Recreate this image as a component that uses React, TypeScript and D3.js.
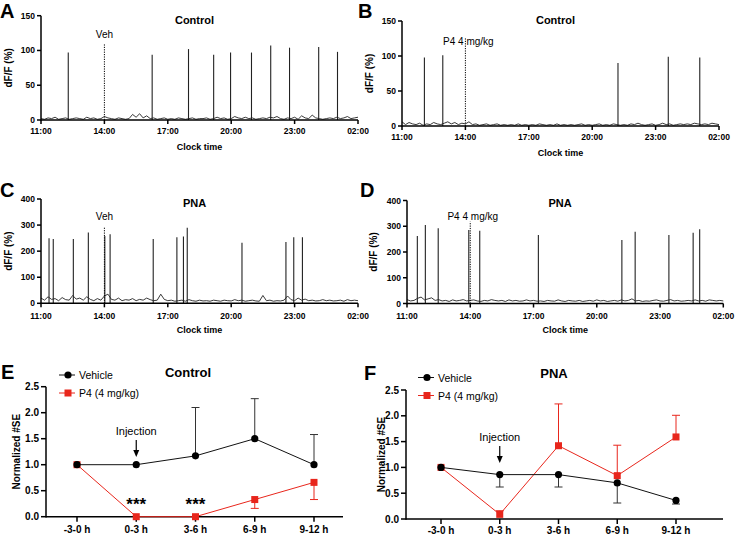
import React from "react";
import * as d3 from "d3";

const FONT = "'Liberation Sans', Arial, Helvetica, sans-serif";

// Clock ticks (hours after 11:00)
const clockTickHours = [0, 3, 6, 9, 12, 15];
const clockTickLabels = ["11:00", "14:00", "17:00", "20:00", "23:00", "02:00"];

// Panel A (Control, Veh) — spike times (h after 11:00) and peaks (dF/F %)
const aSpikeTimes = [1.29, 5.26, 6.98, 8.17, 8.97, 9.96, 10.87, 11.76, 13.14, 14.03];
const aSpikeHeights = [97, 94, 102, 94, 97, 97, 107, 104, 105, 98];
const aNoise = [2,1,3,2,4,1,2,3,1,2, 3,2,1,4,2,3,1,2,5,3, 2,1,3,2,1,2,8,4,9,3, 6,2,3,1,2,3,1,2,1,3, 2,1,2,3,1,2,2,3,1,2, 4,2,3,1,2,5,3,2,4,2, 3,1,2,3,2,4,3,5,2,1, 3,2,4,1,6,3,2,7,3,2, 1,2,3,2,4,2,3,5,2,3, 4];

// Panel B (Control, P4)
const bSpikeTimes = [1.06, 1.93, 10.22, 12.6, 14.09];
const bSpikeHeights = [98, 101, 90, 99, 98];
const bNoise = [6,2,5,3,2,4,1,3,2,5, 3,2,4,6,3,5,2,4,3,6, 2,3,1,2,3,1,2,3,1,2, 1,2,1,3,1,2,1,2,1,3, 2,1,2,1,3,1,2,1,2,1, 2,3,1,2,1,2,3,1,2,1, 3,2,1,2,1,3,2,4,2,1, 2,3,1,2,4,2,3,1,2,3, 2,3,2,4,3,2,3,2,4,3, 2];

// Panel C (PNA, Veh)
const cSpikeTimes = [0.38, 0.58, 1.53, 2.24, 3.02, 3.27, 5.31, 6.43, 6.74, 6.92, 9.51, 11.59, 11.96, 12.37];
const cSpikeHeights = [249, 247, 247, 272, 258, 265, 247, 253, 256, 290, 232, 235, 253, 253];
const cNoise = [20,12,25,15,18,10,22,14,12,30, 16,20,12,25,15,10,18,12,28,35, 15,12,20,10,14,12,18,10,15,12, 20,14,10,12,35,15,10,12,8,10, 12,8,14,10,8,12,9,10,8,12, 10,8,12,10,9,14,10,12,8,10, 12,9,8,30,10,12,8,10,9,12, 28,14,10,20,12,16,10,12,9,10, 14,10,12,9,10,12,8,14,10,12, 10];

// Panel D (PNA, P4)
const dSpikeTimes = [0.49, 0.87, 1.48, 2.93, 3.45, 6.23, 10.19, 10.82, 12.42, 13.57, 13.88];
const dSpikeHeights = [262, 305, 292, 285, 283, 266, 247, 279, 266, 275, 288];
const dNoise = [15,10,12,20,25,14,18,22,12,15, 10,12,8,14,10,12,15,10,12,14, 10,8,12,10,15,12,10,12,8,14, 10,12,9,10,14,10,12,9,10,8, 12,10,9,14,10,8,12,10,9,12, 8,10,12,9,14,10,12,8,10,12, 9,14,10,12,18,10,12,8,10,9, 12,14,10,9,12,15,10,12,9,10, 12,10,14,10,12,9,14,12,10,12, 10];

// Panels E/F
const periods = ["-3-0 h", "0-3 h", "3-6 h", "6-9 h", "9-12 h"];
const seTicks = [0, 0.5, 1.0, 1.5, 2.0, 2.5];

const eVehicle = [1.0, 1.0, 1.17, 1.5, 1.0];
const eVehicleErr = [0, 0, 0.93, 0.77, 0.58]; // upward
const eP4 = [1.0, 0, 0, 0.33, 0.66];
const eP4Err = [0, 0, 0, 0.17, 0.33]; // downward

const fVehicle = [1.0, 0.86, 0.86, 0.7, 0.36];
const fVehicleErr = [0, 0.24, 0.24, 0.39, 0.07]; // downward
const fP4 = [1.0, 0.09, 1.42, 0.84, 1.59];
const fP4Err = [0, 0.07, 0.81, 0.59, 0.42]; // upward

const RED = "#e8261c";

type TraceProps = {
  letter: string; letterX: number; letterY: number;
  title: string; titleY: number;
  ax0: number; ax1: number; y0: number; yTop: number; yMax: number; yTicks: number[];
  times: number[]; heights: number[]; noise: number[];
  mark: string; markTop: number; markLabelDx: number; markLabelY: number;
  tickLabelY: number; xLabelY: number; ylabX: number;
};

function Trace(p: TraceProps) {
  const x = d3.scaleLinear().domain([0, 15]).range([p.ax0, p.ax1]);
  const y = d3.scaleLinear().domain([0, p.yMax]).range([p.y0, p.yTop]);
  const pts: [number, number][] = p.noise.map((v, i) => [i / 6, v]);
  const line = d3.line<[number, number]>().x((d) => x(d[0])).y((d) => y(d[1]));
  const cx = (p.ax0 + p.ax1) / 2;
  return (
    <g fontFamily={FONT}>
      <text x={p.letterX} y={p.letterY} fontSize={20} fontWeight="bold">{p.letter}</text>
      <text x={cx - 5} y={p.titleY} fontSize={11} fontWeight="bold" textAnchor="middle">{p.title}</text>
      <path d={line(pts) || ""} fill="none" stroke="#222" strokeWidth={0.9} />
      {p.times.map((t, i) => (
        <line key={i} x1={x(t)} x2={x(t)} y1={y(0)} y2={y(p.heights[i])} stroke="#222" strokeWidth={1.1} />
      ))}
      <line x1={x(3)} x2={x(3)} y1={y(0)} y2={y(p.markTop)} stroke="#000" strokeWidth={1} strokeDasharray="1.2,1.2" />
      <text x={x(3) + p.markLabelDx} y={p.markLabelY} fontSize={10} textAnchor="middle">{p.mark}</text>
      <line x1={p.ax0} x2={p.ax0} y1={y(0) + 0.75} y2={y(p.yMax)} stroke="#000" strokeWidth={1.5} />
      {p.yTicks.map((t) => (
        <g key={t}>
          <line x1={p.ax0 - 4} x2={p.ax0} y1={y(t)} y2={y(t)} stroke="#000" strokeWidth={1.5} />
          <text x={p.ax0 - 6} y={y(t) + 3} fontSize={8.5} fontWeight="bold" textAnchor="end">{t}</text>
        </g>
      ))}
      <line x1={p.ax0} x2={p.ax1} y1={y(0)} y2={y(0)} stroke="#000" strokeWidth={1.5} />
      {clockTickHours.map((h, i) => (
        <g key={h}>
          <line x1={x(h)} x2={x(h)} y1={y(0)} y2={y(0) + 4} stroke="#000" strokeWidth={1.5} />
          <text x={x(h)} y={p.tickLabelY} fontSize={8.5} fontWeight="bold" textAnchor="middle">{clockTickLabels[i]}</text>
        </g>
      ))}
      <text x={cx} y={p.xLabelY} fontSize={9} fontWeight="bold" textAnchor="middle">Clock time</text>
      <text transform={`translate(${p.ylabX},${(y(0) + y(p.yMax)) / 2}) rotate(-90)`} fontSize={10} fontWeight="bold" textAnchor="middle">dF/F (%)</text>
    </g>
  );
}

type SumProps = {
  letter: string; letterX: number; letterY: number;
  title: string; titleX: number; titleY: number;
  ax0: number; ax1: number; c0: number; c4: number; y0: number; yTop: number;
  veh: number[]; vehErr: number[]; vehDir: number;
  p4: number[]; p4Err: number[]; p4Dir: number;
  legX: number; legY: number;
  injY: number; arrowTop: number; arrowTip: number;
  stars: number[]; ylabX: number; tickLabelDy: number;
};

function Summary(p: SumProps) {
  const x = d3.scaleLinear().domain([0, 4]).range([p.c0, p.c4]);
  const y = d3.scaleLinear().domain([0, 2.5]).range([p.y0, p.yTop]);
  const line = d3.line<number>().x((_, i) => x(i)).y((d) => y(d));
  const errBars = (vals: number[], errs: number[], dir: number, color: string) =>
    vals.map((v, i) =>
      errs[i] > 0 ? (
        <g key={i} stroke={color} strokeWidth={1}>
          <line x1={x(i)} x2={x(i)} y1={y(v)} y2={y(v + dir * errs[i])} />
          <line x1={x(i) - 4} x2={x(i) + 4} y1={y(v + dir * errs[i])} y2={y(v + dir * errs[i])} />
        </g>
      ) : null
    );
  return (
    <g fontFamily={FONT}>
      <text x={p.letterX} y={p.letterY} fontSize={20} fontWeight="bold">{p.letter}</text>
      <text x={p.titleX} y={p.titleY} fontSize={13} fontWeight="bold" textAnchor="middle">{p.title}</text>
      <line x1={p.ax0} x2={p.ax0} y1={y(0) + 0.75} y2={y(2.5)} stroke="#000" strokeWidth={1.5} />
      {seTicks.map((t) => (
        <g key={t}>
          <line x1={p.ax0 - 5} x2={p.ax0} y1={y(t)} y2={y(t)} stroke="#000" strokeWidth={1.5} />
          <text x={p.ax0 - 7} y={y(t) + 3.5} fontSize={10} fontWeight="bold" textAnchor="end">{t.toFixed(1)}</text>
        </g>
      ))}
      <line x1={p.ax0} x2={p.ax1} y1={y(0)} y2={y(0)} stroke="#000" strokeWidth={1.5} />
      {periods.map((c, i) => (
        <g key={c}>
          <line x1={x(i)} x2={x(i)} y1={y(0)} y2={y(0) + 5} stroke="#000" strokeWidth={1.5} />
          <text x={x(i)} y={y(0) + p.tickLabelDy} fontSize={10} fontWeight="bold" textAnchor="middle">{c}</text>
        </g>
      ))}
      <text transform={`translate(${p.ylabX},${(y(0) + y(2.5)) / 2}) rotate(-90)`} fontSize={10} fontWeight="bold" textAnchor="middle">Normalized #SE</text>
      {errBars(p.p4, p.p4Err, p.p4Dir, RED)}
      <path d={line(p.p4) || ""} fill="none" stroke={RED} strokeWidth={1} />
      {p.p4.map((v, i) => (
        <rect key={i} x={x(i) - 3.5} y={y(v) - 3.5} width={7} height={7} fill={RED} />
      ))}
      {errBars(p.veh, p.vehErr, p.vehDir, "#333")}
      <path d={line(p.veh) || ""} fill="none" stroke="#111" strokeWidth={1} />
      {p.veh.map((v, i) => (
        <circle key={i} cx={x(i)} cy={y(v)} r={3.6} fill="#000" />
      ))}
      <line x1={p.legX - 9} x2={p.legX + 7} y1={p.legY} y2={p.legY} stroke="#111" strokeWidth={1} />
      <circle cx={p.legX} cy={p.legY} r={3.6} fill="#000" />
      <text x={p.legX + 11} y={p.legY + 4} fontSize={10.5}>Vehicle</text>
      <line x1={p.legX - 9} x2={p.legX + 7} y1={p.legY + 18} y2={p.legY + 18} stroke={RED} strokeWidth={1} />
      <rect x={p.legX - 3.5} y={p.legY + 14.5} width={7} height={7} fill={RED} />
      <text x={p.legX + 11} y={p.legY + 22} fontSize={10.5}>P4 (4 mg/kg)</text>
      <text x={x(1)} y={p.injY} fontSize={11} textAnchor="middle">Injection</text>
      <line x1={x(1)} x2={x(1)} y1={p.arrowTop} y2={p.arrowTip - 5} stroke="#000" strokeWidth={1.2} />
      <path d={`M${x(1) - 3},${p.arrowTip - 7} L${x(1) + 3},${p.arrowTip - 7} L${x(1)},${p.arrowTip} Z`} fill="#000" />
      {p.stars.map((i) => (
        <text key={i} x={x(i)} y={y(0) - 7} fontSize={17} fontWeight="bold" textAnchor="middle">***</text>
      ))}
    </g>
  );
}

export default function App() {
  return (
    <svg width={735} height={537} style={{ position: "absolute", left: 0, top: 0, background: "#fff" }}>
      <rect width={735} height={537} fill="#fff" />
      <Trace letter="A" letterX={0} letterY={18} title="Control" titleY={24}
        ax0={41} ax1={358} y0={120} yTop={15.7} yMax={150} yTicks={[0, 50, 100, 150]}
        times={aSpikeTimes} heights={aSpikeHeights} noise={aNoise}
        mark="Veh" markTop={110} markLabelDx={0} markLabelY={38}
        tickLabelY={134} xLabelY={150} ylabX={12} />
      <Trace letter="B" letterX={358} letterY={18} title="Control" titleY={24}
        ax0={402} ax1={719} y0={126} yTop={21} yMax={150} yTicks={[0, 50, 100, 150]}
        times={bSpikeTimes} heights={bSpikeHeights} noise={bNoise}
        mark="P4 4 mg/kg" markLabelDx={3} markTop={126} markLabelY={45}
        tickLabelY={140} xLabelY={156} ylabX={373} />
      <Trace letter="C" letterX={0} letterY={197} title="PNA" titleY={207}
        ax0={41} ax1={358} y0={303.3} yTop={199} yMax={400} yTicks={[0, 100, 200, 300, 400]}
        times={cSpikeTimes} heights={cSpikeHeights} noise={cNoise}
        mark="Veh" markTop={293} markLabelDx={0} markLabelY={220}
        tickLabelY={319} xLabelY={333} ylabX={12} />
      <Trace letter="D" letterX={360} letterY={197} title="PNA" titleY={207}
        ax0={407} ax1={723.3} y0={303.5} yTop={200.5} yMax={400} yTicks={[0, 100, 200, 300, 400]}
        times={dSpikeTimes} heights={dSpikeHeights} noise={dNoise}
        mark="P4 4 mg/kg" markTop={318} markLabelDx={2.5} markLabelY={219.5}
        tickLabelY={319} xLabelY={333} ylabX={377} />
      <Summary letter="E" letterX={1} letterY={379} title="Control" titleX={188} titleY={377}
        ax0={46} ax1={343} c0={77} c4={314} y0={516.7} yTop={386.7}
        veh={eVehicle} vehErr={eVehicleErr} vehDir={1}
        p4={eP4} p4Err={eP4Err} p4Dir={-1}
        legX={68} legY={375} injY={435} arrowTop={440} arrowTip={457}
        stars={[1, 2]} ylabX={20} tickLabelDy={16} />
      <Summary letter="F" letterX={364} letterY={380} title="PNA" titleX={554} titleY={378}
        ax0={406} ax1={723} c0={441} c4={676} y0={519} yTop={390}
        veh={fVehicle} vehErr={fVehicleErr} vehDir={-1}
        p4={fP4} p4Err={fP4Err} p4Dir={1}
        legX={427} legY={377.5} injY={441} arrowTop={446} arrowTip={463}
        stars={[]} ylabX={385} tickLabelDy={14.5} />
    </svg>
  );
}
